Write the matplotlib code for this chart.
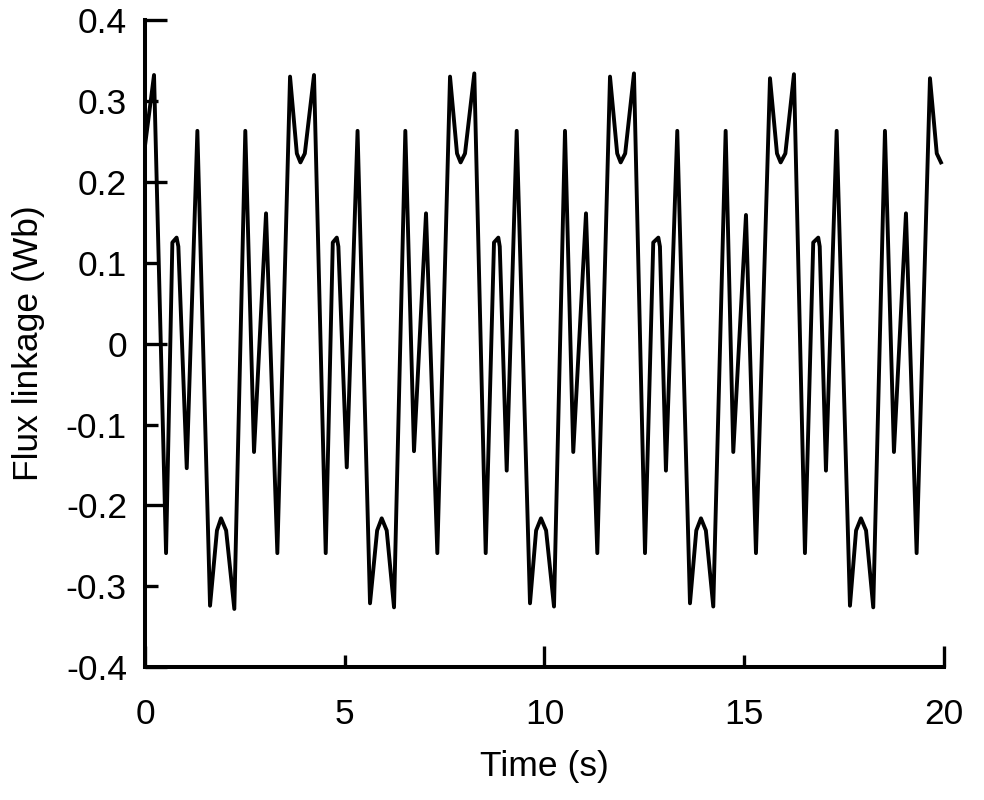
import numpy as np
import matplotlib.pyplot as plt
from matplotlib.ticker import FixedLocator

# vertices of the flux linkage trace (time in s, flux in Wb)
time_s = [
    0.00, 0.225, 0.526, 0.684, 0.79, 0.834, 1.044, 1.31, 1.627, 1.80, 1.902, 2.03, 2.235,
    2.51, 2.728, 3.029, 3.312, 3.63, 3.80, 3.89, 4.00, 4.23,
    4.523, 4.70, 4.80, 4.84, 5.05, 5.32, 5.632, 5.81, 5.925, 6.05, 6.233,
    6.516, 6.733, 7.034, 7.317, 7.635, 7.81, 7.90, 8.01, 8.243,
    8.528, 8.736, 8.844, 8.88, 9.054, 9.304, 9.637, 9.79, 9.912, 10.04, 10.238,
    10.513, 10.72, 11.039, 11.322, 11.64, 11.82, 11.907, 12.02, 12.24,
    12.516, 12.723, 12.85, 12.89, 13.04, 13.324, 13.642, 13.80, 13.917, 14.04, 14.225,
    14.535, 14.726, 15.044, 15.294, 15.645, 15.82, 15.912, 16.03, 16.245,
    16.52, 16.728, 16.853, 16.89, 17.046, 17.314, 17.647, 17.80, 17.922, 18.05, 18.23,
    18.523, 18.748, 19.049, 19.316, 19.65, 19.82, 19.925,
]
flux_wb = [
    0.245, 0.332, -0.259, 0.125, 0.131, 0.120, -0.154, 0.263, -0.324, -0.231, -0.216, -0.231, -0.328,
    0.263, -0.134, 0.161, -0.259, 0.330, 0.235, 0.224, 0.235, 0.332,
    -0.259, 0.125, 0.131, 0.120, -0.153, 0.263, -0.321, -0.231, -0.216, -0.231, -0.326,
    0.263, -0.133, 0.161, -0.259, 0.330, 0.235, 0.224, 0.235, 0.334,
    -0.259, 0.125, 0.131, 0.120, -0.157, 0.263, -0.321, -0.231, -0.216, -0.231, -0.325,
    0.263, -0.134, 0.161, -0.259, 0.330, 0.235, 0.224, 0.235, 0.334,
    -0.259, 0.125, 0.131, 0.120, -0.157, 0.263, -0.321, -0.231, -0.216, -0.231, -0.325,
    0.263, -0.134, 0.159, -0.259, 0.328, 0.235, 0.224, 0.235, 0.333,
    -0.259, 0.125, 0.131, 0.120, -0.157, 0.263, -0.324, -0.231, -0.216, -0.231, -0.326,
    0.263, -0.134, 0.161, -0.259, 0.328, 0.235, 0.224,
]

y_major = [-0.4, -0.2, 0, 0.2, 0.4]
y_minor = [-0.3, -0.1, 0.1, 0.3]
x_major = [0, 10, 20]
x_minor = [5, 15]

plt.rcParams['font.family'] = ['Liberation Sans', 'DejaVu Sans']

fig = plt.figure(figsize=(9.84, 8), dpi=100)
ax = fig.add_axes([0.1474, 0.166, 0.8119, 0.809])

ax.plot(time_s, flux_wb, color='black', lw=2.8)

ax.set_xlim(0, 20)
ax.set_ylim(-0.4, 0.4)

# long ticks on the even steps, short ticks in between; all of them labelled
ax.xaxis.set_major_locator(FixedLocator(x_major))
ax.xaxis.set_minor_locator(FixedLocator(x_minor))
ax.yaxis.set_major_locator(FixedLocator(y_major))
ax.yaxis.set_minor_locator(FixedLocator(y_minor))
ax.set_xticklabels([str(v) for v in x_major])
ax.set_xticklabels([str(v) for v in x_minor], minor=True)
ax.set_yticklabels(['0' if v == 0 else f'{v:.1f}' for v in y_major])
ax.set_yticklabels([f'{v:.1f}' for v in y_minor], minor=True)

ax.tick_params(which='both', direction='in', width=2.4, labelsize=25.5, color='black')
ax.tick_params(axis='y', which='major', length=16, pad=13)
ax.tick_params(axis='y', which='minor', length=9.5, pad=13)
ax.tick_params(axis='x', which='major', length=15, pad=22)
ax.tick_params(axis='x', which='minor', length=8.5, pad=22)

for side in ['top', 'right']:
    ax.spines[side].set_visible(False)
for side in ['left', 'bottom']:
    ax.spines[side].set_linewidth(2.9)

ax.set_xlabel('Time (s)', fontsize=25.5, labelpad=14)
ax.set_ylabel('Flux linkage (Wb)', fontsize=25.5, labelpad=15)

fig.savefig('out.png', dpi=100)
